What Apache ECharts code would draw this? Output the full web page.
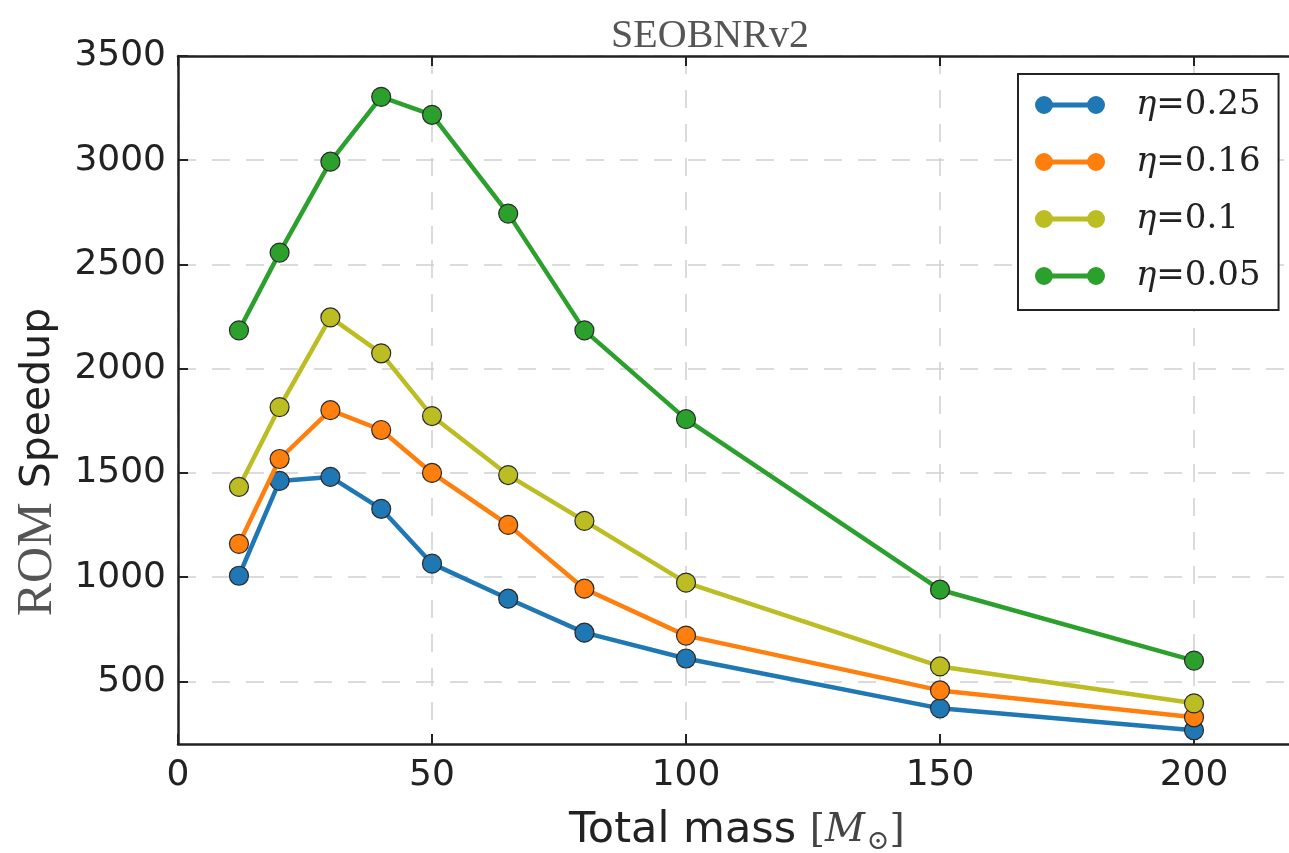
<!DOCTYPE html>
<html>
<head>
<meta charset="utf-8">
<script src="https://cdn.jsdelivr.net/npm/echarts@6/dist/echarts.min.js"></script>
<style>html,body{margin:0;padding:0;background:#fff;overflow:hidden}#c{width:1289px;height:853px}</style>
</head>
<body>
<div id="c"></div>
<script>
// ---- data ----
const masses = [12, 20, 30, 40, 50, 65, 80, 100, 150, 200];
const seriesNames = ['η=0.25', 'η=0.16', 'η=0.1', 'η=0.05'];
const eta025 = [1007, 1462, 1481, 1328, 1065, 897, 734, 610, 371, 266];
const eta016 = [1160, 1567, 1801, 1706, 1500, 1251, 945, 720, 457, 328];
const eta010 = [1433, 1816, 2246, 2074, 1773, 1490, 1270, 974, 572, 395];
const eta005 = [2184, 2557, 2993, 3304, 3218, 2744, 2184, 1758, 940, 600];
const xTicks = [0, 50, 100, 150, 200];
const yTicks = [500, 1000, 1500, 2000, 2500, 3000, 3500];
const colors = ['#1f77b4', '#ff7f0e', '#bcbd22', '#2ca02c'];

const allValues = [eta025, eta016, eta010, eta005];
const chart = echarts.init(document.getElementById('c'));

const legendIcon = 'path://M0,9A9,9 0 1,1 18,9A9,9 0 1,1 0,9ZM52,9A9,9 0 1,1 70,9A9,9 0 1,1 52,9ZM17,6.5L53,6.5L53,11.5L17,11.5Z';

const series = allValues.map((vals, i) => ({
  name: seriesNames[i],
  type: 'line',
  data: masses.map((m, k) => [m, vals[k]]),
  symbol: 'circle',
  symbolSize: 19,
  lineStyle: { width: 4.5, color: colors[i] },
  itemStyle: { color: colors[i], borderColor: '#2a2a2a', borderWidth: 1.2 },
  emphasis: { disabled: true },
  z: 10 + i
}));

const option = {
  animation: false,
  title: {
    text: 'SEOBNRv2',
    left: 705, top: 11, textAlign: 'center',
    textStyle: { fontFamily: 'Liberation Serif', fontSize: 40, fontWeight: 'normal', color: '#555' }
  },
  grid: { left: 178, top: 56, width: 1117.6, height: 688, containLabel: false, outerBoundsMode: 'none' },
  legend: {
    left: 1018, top: 74, orient: 'vertical',
    backgroundColor: '#fff', borderColor: '#222', borderWidth: 2,
    padding: [14, 18, 17, 17],
    itemWidth: 70, itemHeight: 18, itemGap: 23,
    selectedMode: false,
    icon: legendIcon,
    data: seriesNames.map((n, i) => ({ name: n, itemStyle: { color: colors[i], borderWidth: 0 } })),
    formatter: n => '{e|η}{n|=' + n.split('=')[1] + '}',
    textStyle: {
      padding: [0, 0, 0, 26],
      rich: {
        e: { fontFamily: 'DejaVu Serif', fontStyle: 'italic', fontSize: 34, color: '#222' },
        n: { fontFamily: 'DejaVu Serif', fontSize: 34, color: '#222' }
      }
    }
  },
  xAxis: [{
    type: 'value', min: 0, max: 220, interval: 50,
    axisLine: { onZero: false, lineStyle: { color: '#222', width: 2.5 } },
    axisTick: { inside: true, length: 10, lineStyle: { color: '#222', width: 2 } },
    axisLabel: { showMaxLabel: false, margin: 14, fontFamily: 'DejaVu Sans', fontSize: 36, color: '#222' },
    splitLine: { show: true, lineStyle: { color: '#cfcfcf', width: 1.5, type: [18, 16] } },
    name: '{t|Total mass }{m|[}{i|M}{s|⊙}{m|]}',
    nameLocation: 'middle', nameGap: 62,
    nameTextStyle: {
      rich: {
        t: { fontFamily: 'DejaVu Sans', fontSize: 43, color: '#222' },
        m: { fontFamily: 'DejaVu Serif', fontSize: 39, color: '#444' },
        i: { fontFamily: 'DejaVu Serif', fontStyle: 'italic', fontSize: 39, color: '#444' },
        s: { fontFamily: 'DejaVu Serif', fontSize: 27, color: '#444', padding: [22, 0, 0, 2] }
      }
    }
  }, {
    type: 'value', min: 0, max: 220, interval: 50, position: 'top',
    axisLine: { onZero: false, lineStyle: { color: '#222', width: 2.5 } },
    axisTick: { inside: true, length: 10, lineStyle: { color: '#222', width: 2 } },
    axisLabel: { show: false },
    splitLine: { show: false }
  }],
  yAxis: [{
    type: 'value', min: 200, max: 3500, interval: 100,
    axisLine: { show: true, onZero: false, lineStyle: { color: '#222', width: 2.5 } },
    axisTick: { show: true, inside: true, length: 10, customValues: yTicks, lineStyle: { color: '#222', width: 2 } },
    axisLabel: { customValues: yTicks, formatter: v => String(v), margin: 12, fontFamily: 'DejaVu Sans', fontSize: 36, color: '#222' },
    splitLine: { show: true, lineStyle: { color: '#cfcfcf', width: 1.5, type: [18, 16] } }
  }],
  graphic: [{
    type: 'text',
    x: 38, y: 462, rotation: Math.PI / 2,
    style: {
      text: '{a|ROM}{g| }{b|Speedup}',
      align: 'center', verticalAlign: 'middle',
      rich: {
        a: { fontFamily: 'Liberation Serif', fontSize: 50, fill: '#555' },
        g: { width: 14 },
        b: { fontFamily: 'DejaVu Sans', fontSize: 41, fill: '#222' }
      }
    }
  }],
  series: series
};
chart.setOption(option);
</script>
</body>
</html>
